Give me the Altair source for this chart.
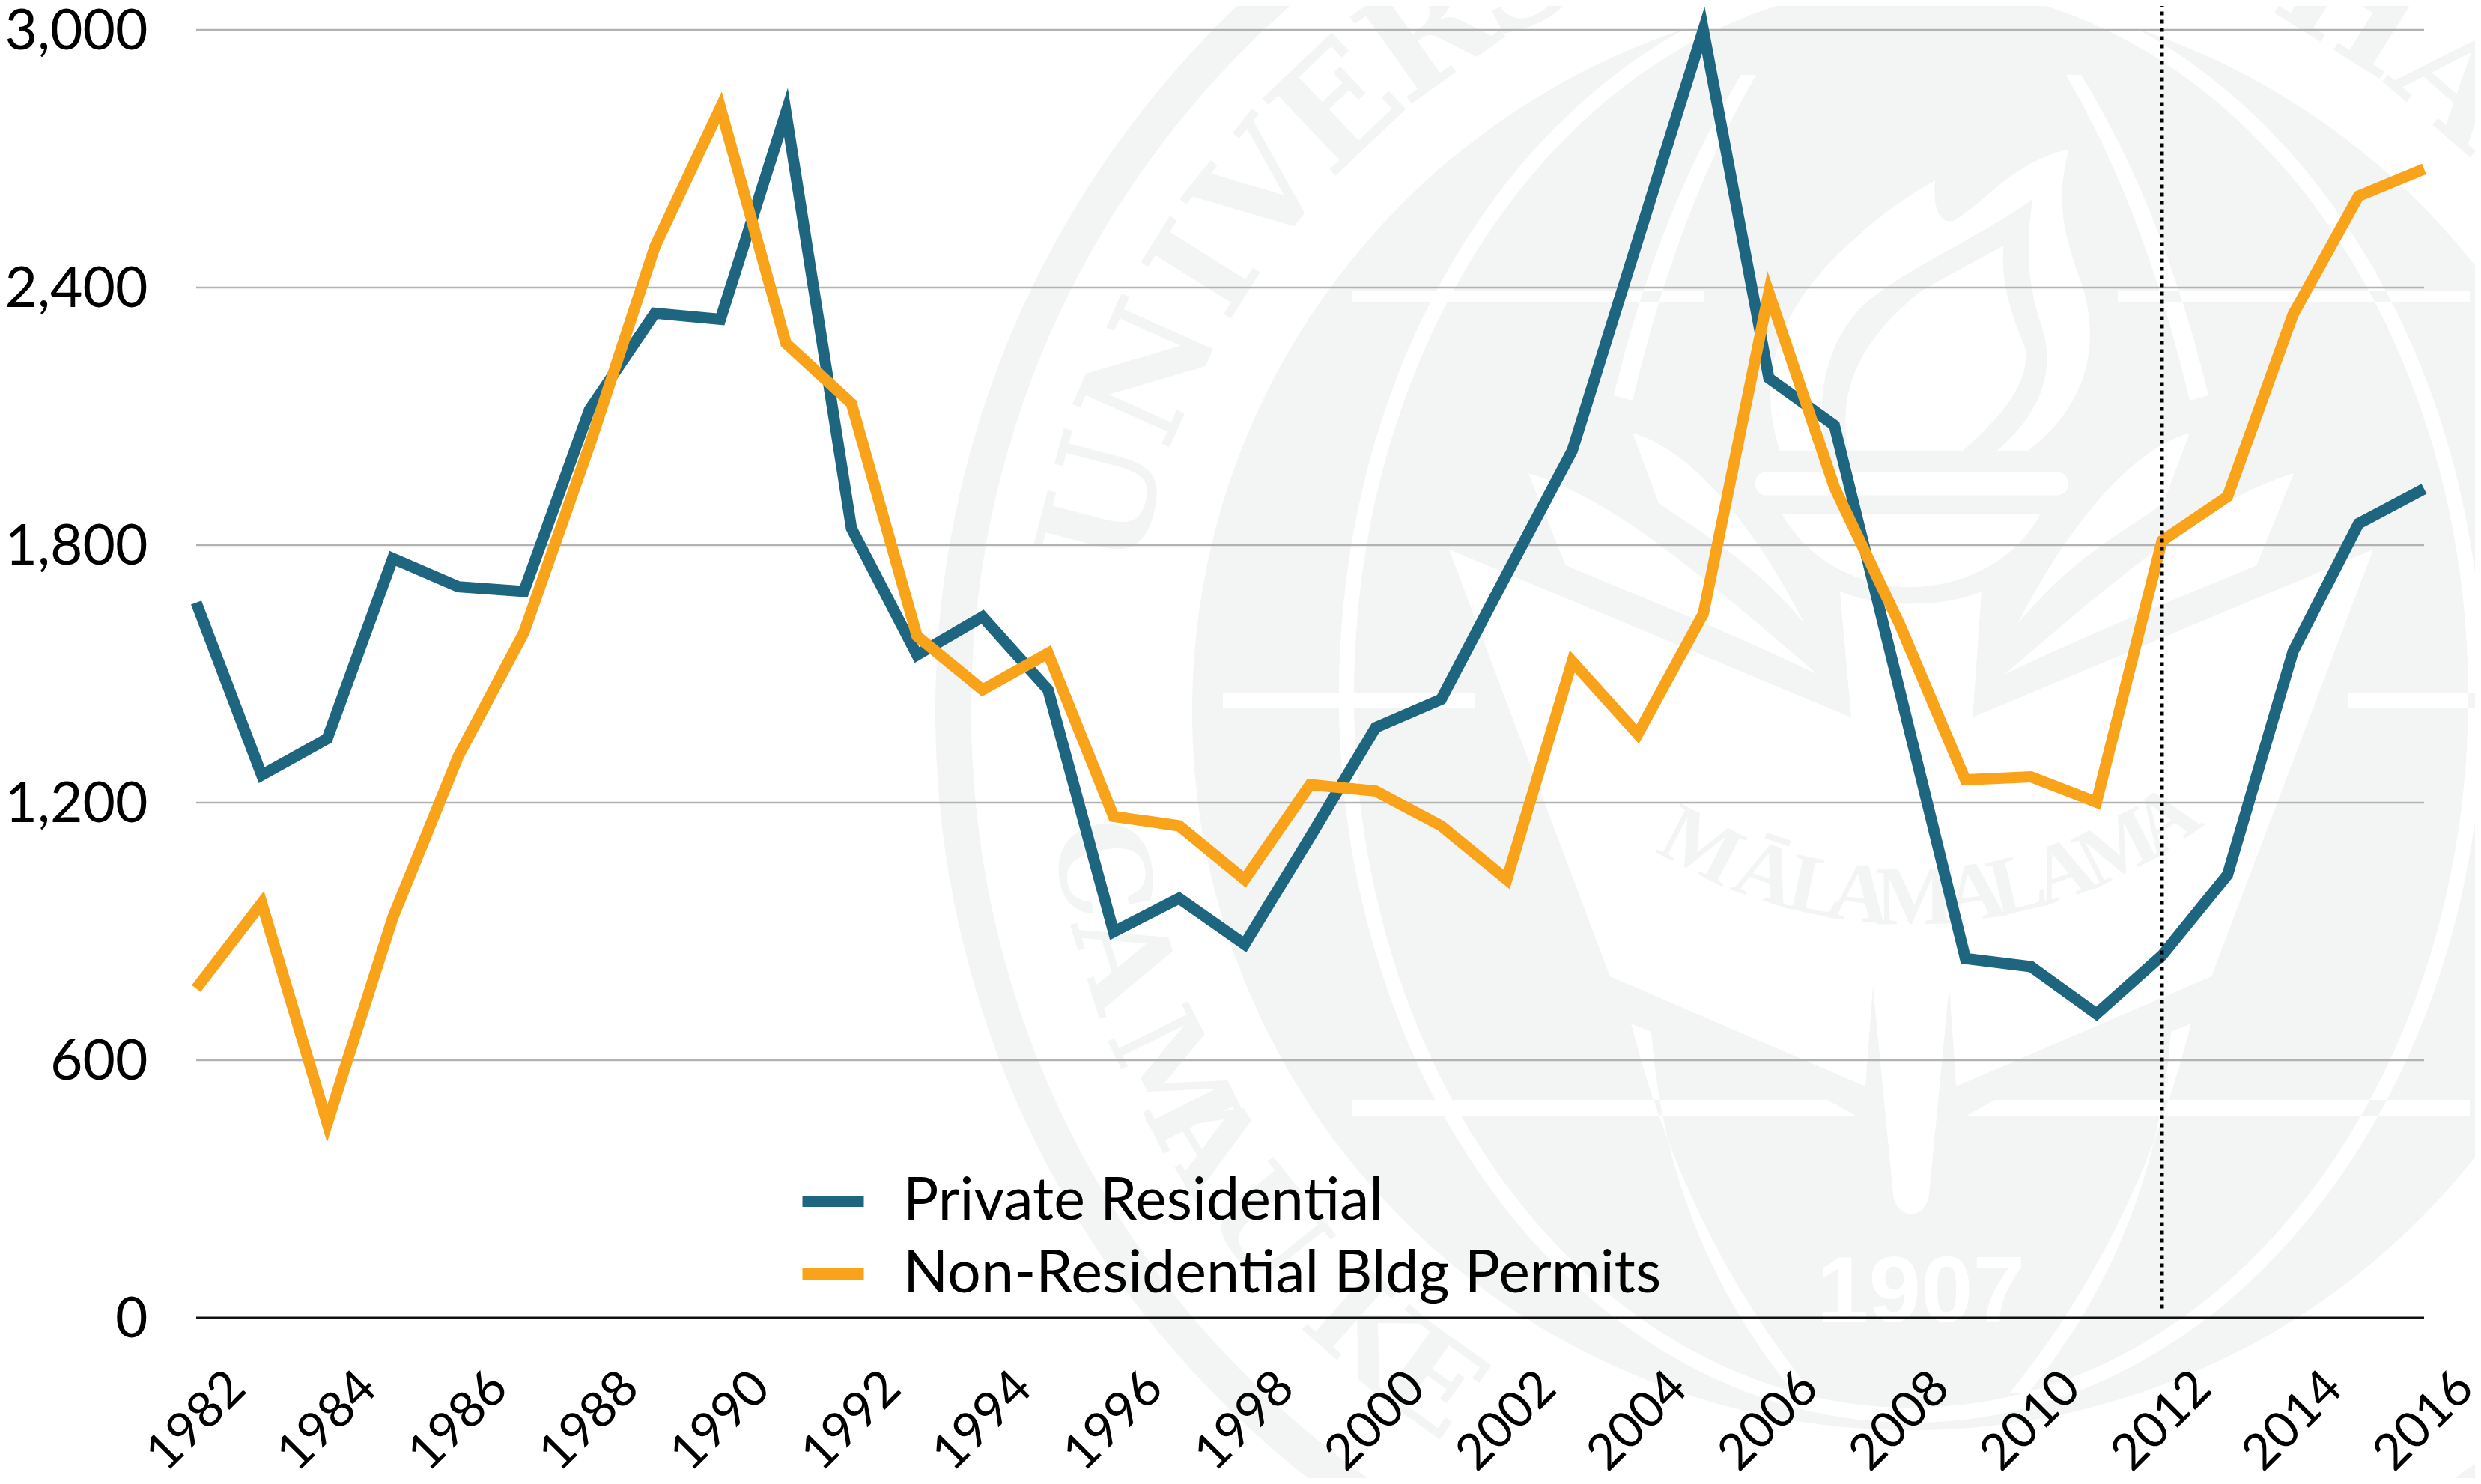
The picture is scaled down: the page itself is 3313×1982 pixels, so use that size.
import math
import altair as alt
import pandas as pd

# ---- chart data -------------------------------------------------------
years = list(range(1982, 2017))
private_residential = [1666, 1264, 1349, 1769, 1703, 1692, 2115, 2340, 2326, 2808,
                       1839, 1544, 1633, 1463, 899, 977, 870, 1120, 1375, 1441,
                       1732, 2020, 2510, 3000, 2189, 2079, 1459, 837, 818, 708,
                       844, 1032, 1552, 1850, 1931]
non_residential = [767, 966, 453, 932, 1308, 1596, 2031, 2495, 2819, 2270,
                   2130, 1588, 1463, 1548, 1168, 1146, 1021, 1242, 1227, 1146,
                   1021, 1529, 1360, 1640, 2388, 1935, 1614, 1253, 1260, 1201,
                   1810, 1913, 2337, 2613, 2676]
series_names = ["Private Residential", "Non-Residential Bldg Permits"]
series_colors = ["#1e6680", "#f9a31b"]
x_ticks = list(range(1982, 2017, 2))
y_ticks = [0, 600, 1200, 1800, 2400, 3000]
forecast_year = [2012]

FONT = "Lato"
W, H = 2975, 1720
OX, OY = 262, 40          # page position of the plot origin
LIGHT = "#f3f5f4"

df = pd.DataFrame({
    "year": years * 2,
    "value": private_residential + non_residential,
    "series": [series_names[0]] * len(years) + [series_names[1]] * len(years),
})

# ---- background seal (decoration only) --------------------------------
CX, CY = 2552, 950


def p(x, y):
    return f"{x - OX:.1f} {y - OY:.1f}"


def circle(cx, cy, rx, ry, sweep=1):
    return (f"M{p(cx - rx, cy)} A{rx} {ry} 0 1 {sweep} {p(cx + rx, cy)} "
            f"A{rx} {ry} 0 1 {sweep} {p(cx - rx, cy)} Z ")


def z8(x, y):
    return 1900 + x / 1.206, 100 + y / 1.206


def poly(points, mirror=False):
    out = ""
    for i, cmd in enumerate(points):
        kind, coords = cmd[0], cmd[1:]
        vals = []
        for c in coords:
            x, y = c
            if mirror:
                x = 2 * CX - x
            vals.append(p(x, y))
        out += kind + " ".join(vals) + " "
    return out + "Z "


def zp(*cmds):
    return [(c[0], *[z8(*q) for q in c[1:]]) for c in cmds]


rings = circle(CX, CY, 1303, 1303, 1) + circle(CX, CY, 1255, 1255, 0) + circle(CX, CY, 960, 960, 1)

white = circle(CX, 930, 764, 970, 1) + circle(CX, 930, 744, 950, 0)

shapes = []
shapes.append(zp(("M", (575, 605)), ("C", (540, 500), (560, 380), (700, 260)), ("C", (750, 215), (790, 190), (825, 170)),
                 ("C", (820, 220), (835, 240), (855, 235)), ("C", (900, 210), (950, 140), (1040, 120)),
                 ("C", (1020, 200), (1030, 250), (1055, 320)), ("C", (1090, 410), (1085, 520), (975, 605)),
                 ("L", (925, 605)), ("C", (1000, 540), (1020, 470), (995, 400)), ("C", (975, 340), (970, 280), (982, 200)),
                 ("C", (900, 260), (780, 310), (710, 370)), ("C", (650, 430), (630, 520), (650, 605)), ))
shapes.append(zp(("M", (685, 605)), ("C", (670, 520), (690, 440), (800, 350)), ("C", (850, 320), (900, 295), (935, 275)),
                 ("C", (930, 340), (950, 390), (970, 440)), ("C", (980, 500), (920, 560), (870, 605)), ))
shapes.append(zp(("M", (552, 640)), ("L", (1022, 640)), ("C", (1045, 640), (1045, 677), (1022, 677)),
                 ("L", (552, 677)), ("C", (530, 677), (530, 640), (552, 640)), ))
shapes.append(zp(("M", (578, 707)), ("L", (995, 707)), ("C", (950, 790), (860, 825), (785, 825)),
                 ("C", (700, 825), (620, 780), (578, 707)), ))
shield = [("M", (1935, 734)), ("L", (2472, 958)), ("L", (2457, 790)), ("C", (2510, 812), (2595, 812), (2646, 790)),
          ("L", (2634, 958)), ("L", (3169, 734)), ("L", (2953, 1304)), ("L", (2612, 1451)), ("L", (2603, 1316)),
          ("L", (2576, 1595)), ("C", (2572, 1630), (2532, 1630), (2528, 1595)), ("L", (2501, 1316)), ("L", (2491, 1451)),
          ("L", (2150, 1304))]
leaves = [
    zp(("M", (338, 577)), ("C", (420, 600), (520, 700), (615, 885)), ("C", (530, 780), (450, 740), (380, 690)), ),
    zp(("M", (170, 642)), ("C", (300, 680), (430, 790), (635, 965)), ("C", (500, 900), (350, 840), (230, 790)), ),
]
bars = [
    [("M", (1806, 389)), ("L", (2276, 389)), ("L", (2276, 404)), ("L", (1806, 404))],
    [("M", (1633, 925)), ("L", (1969, 925)), ("L", (1969, 945)), ("L", (1633, 945))],
    [("M", (1806, 1469)), ("L", (2440, 1469)), ("L", (2478, 1490)), ("L", (1806, 1490))],
]
arcs = [
    [("M", (2180, 535)), ("Q", (2240, 280), (2345, 100)), ("L", (2325, 100)), ("Q", (2215, 280), (2155, 528))],
    [("M", (2178, 1367)), ("Q", (2250, 1650), (2420, 1860)), ("L", (2395, 1860)), ("Q", (2225, 1650), (2205, 1378))],
]
for s in shapes:
    white += poly(s)
white += poly(shield)
for group in (leaves, bars, arcs):
    for s in group:
        white += poly(s) + poly(s, mirror=True)

ring_letters = [("U", -75.4), ("N", -66), ("I", -58), ("V", -51.3), ("E", -43.5), ("R", -35.5), ("S", -28),
                ("H", 32), ("A", 41)]
foot_letters = [("C", -79), ("A", -72.5), ("M", -63.5), ("A", -58.7), ("U", -51.4), ("K", -41.4), ("E", -35.6)]
motto = [("M", -27.5), ("Ā", -18.6), ("L", -12), ("A", -6.5), ("M", 0.5), ("A", 8), ("L", 13.5), ("A", 19.5), ("M", 27), ("A", 34)]

rows = []
R = 1107
for ch, a in ring_letters:
    t = math.radians(a)
    rows.append({"c": ch, "x": CX + R * math.sin(t) - OX, "y": CY - R * math.cos(t) - OY, "a": a % 360, "s": 195})
for ch, a in foot_letters:
    t = math.radians(a)
    rows.append({"c": ch, "x": CX + R * math.sin(t) - OX, "y": CY + R * math.cos(t) - OY, "a": (-a) % 360, "s": 165})
letters = pd.DataFrame(rows)
rows2 = []
for ch, a in motto:
    t = math.radians(a)
    rows2.append({"c": ch, "x": CX + 608 * math.sin(t) - OX, "y": 592 + 608 * math.cos(t) - OY, "a": (-a) % 360, "s": 112})
motto_letters = pd.DataFrame(rows2)

one = pd.DataFrame({"a": [0]})
seal_base = alt.Chart(one).mark_point(shape=rings, filled=True, color=LIGHT, size=4, opacity=1, strokeWidth=0).encode(
    x=alt.value(0), y=alt.value(0))
seal_white = alt.Chart(one).mark_point(shape=white, filled=True, color="#ffffff", size=4, opacity=1, strokeWidth=0).encode(
    x=alt.value(0), y=alt.value(0))
seal_text = alt.Chart(letters).mark_text(font="DejaVu Serif", fontWeight="bold", color=LIGHT, baseline="middle", align="center").encode(
    x=alt.X("x:Q", scale=None), y=alt.Y("y:Q", scale=None), text="c:N",
    angle=alt.Angle("a:Q", scale=None), size=alt.Size("s:Q", scale=None, legend=None))
seal_motto = alt.Chart(motto_letters).mark_text(font="Liberation Serif", fontWeight="bold", color=LIGHT, baseline="middle", align="center").encode(
    x=alt.X("x:Q", scale=None), y=alt.Y("y:Q", scale=None), text="c:N",
    angle=alt.Angle("a:Q", scale=None), size=alt.Size("s:Q", scale=None, legend=None))
seal_year = alt.Chart(pd.DataFrame({"t": ["1907"]})).mark_text(
    font="Liberation Sans", fontWeight="bold", fontSize=125, color="#ffffff", baseline="middle", align="center"
).encode(x=alt.value(2565 - OX), y=alt.value(1727 - OY), text="t:N")

# ---- chart layers -----------------------------------------------------
x_enc = alt.X("year:Q", scale=alt.Scale(domain=[1982, 2016], nice=False, zero=False), title=None,
              axis=alt.Axis(values=x_ticks, format="d", labelAngle=-45, labelAlign="center", labelBaseline="middle",
                            labelPadding=138, labelOffset=0, labelFont=FONT, labelFontSize=67, labelColor="#000000",
                            labelLimit=2000, labelOverlap=False, labelFlush=False, labelBound=False, ticks=False,
                            domain=False, grid=False, zindex=1))
y_enc = alt.Y("value:Q", scale=alt.Scale(domain=[0, 3000], nice=False), title=None,
              axis=alt.Axis(values=y_ticks, format=",d", labelPadding=65, labelFont=FONT, labelFontSize=75,
                            labelOffset=2, labelColor="#000000", labelLimit=2000, labelOverlap=False, labelFlush=False,
                            ticks=False, domain=False, grid=False, zindex=1))

grid = alt.Chart(pd.DataFrame({"value": y_ticks[1:]})).mark_rule(color="#b2b2b2", strokeWidth=2.5).encode(y=y_enc)
baseline = alt.Chart(pd.DataFrame({"value": [0]})).mark_rule(color="#111111", strokeWidth=3).encode(y=y_enc)

lines = alt.Chart(df).mark_line(strokeWidth=15, strokeJoin="miter", strokeMiterLimit=10, strokeCap="butt").encode(
    x=x_enc, y=y_enc,
    color=alt.Color("series:N", scale=alt.Scale(domain=series_names, range=series_colors), sort=series_names,
                    legend=alt.Legend(title=None, orient="none", legendX=802, legendY=1516, symbolType="stroke",
                                      symbolStrokeWidth=15, symbolSize=6724, labelFont=FONT, labelFontSize=79,
                                      labelColor="#000000", labelLimit=2000, labelOffset=45, rowPadding=8)),
    order=alt.Order("year:Q"),
)

marker = alt.Chart(pd.DataFrame({"year": forecast_year, "value": [3062], "bottom": [12]})).mark_rule(
    color="#000000", strokeWidth=5, strokeDash=[5, 6]).encode(x=x_enc, y=y_enc, y2="bottom:Q")

chart = alt.layer(seal_base, seal_white, seal_text, seal_motto, seal_year, grid, baseline, lines, marker).properties(
    width=W, height=H,
    autosize=alt.AutoSizeParams(type="none"),
    padding={"left": OX - 8, "top": OY - 8, "right": 68, "bottom": 214},
    background="#ffffff",
).configure_view(stroke=None)

chart.save("out.html", embed_options={"renderer": "svg", "actions": False})
